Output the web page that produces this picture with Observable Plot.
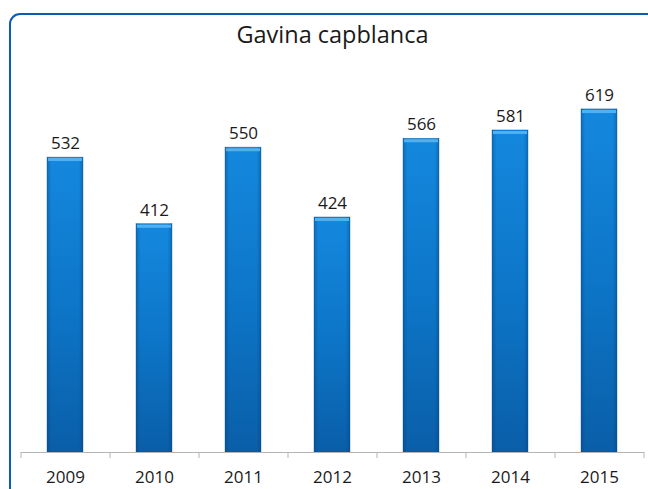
<!DOCTYPE html>
<html>
<head>
<meta charset="utf-8">
<script src="https://cdn.jsdelivr.net/npm/d3@7"></script>
<script src="https://cdn.jsdelivr.net/npm/@observablehq/plot@0.6"></script>
<style>
  html, body { margin: 0; padding: 0; background: #fff; }
  body { width: 648px; height: 489px; position: relative; overflow: hidden; font-family: "Open Sans", Lato, sans-serif; }
  #frame { position: absolute; left: 9px; top: 13px; width: 700px; height: 560px; border: 2.5px solid #0b5db3; border-radius: 11px; box-sizing: border-box; }
  #title { position: absolute; left: 21px; width: 623px; top: 19px; text-align: center; font-family: "Open Sans", sans-serif; font-size: 23.5px; color: #1a1a1a; line-height: 1.3; }
  #chart { position: absolute; left: 0; top: 0; }
</style>
</head>
<body>
<svg width="0" height="0" style="position:absolute">
  <defs>
    <linearGradient id="barV" x1="0" y1="0" x2="0" y2="1">
      <stop offset="0" stop-color="#1488de"/>
      <stop offset="0.5" stop-color="#0d76c8"/>
      <stop offset="1" stop-color="#0a5ea8"/>
    </linearGradient>
    <linearGradient id="barH" x1="0" y1="0" x2="1" y2="0">
      <stop offset="0" stop-color="#003a70" stop-opacity="0.35"/>
      <stop offset="0.12" stop-color="#003a70" stop-opacity="0"/>
      <stop offset="0.88" stop-color="#003a70" stop-opacity="0"/>
      <stop offset="1" stop-color="#003a70" stop-opacity="0.35"/>
    </linearGradient>
  </defs>
</svg>
<div id="frame"></div>
<div id="title">Gavina capblanca</div>
<div id="chart"></div>
<script>
const years = ["2009", "2010", "2011", "2012", "2013", "2014", "2015"];
const counts = [532, 412, 550, 424, 566, 581, 619];

const data = years.map((year, i) => ({year, count: counts[i]}));
const W = 648, H = 489;
const mL = 21, mR = 4;
const step = (W - mL - mR) / years.length;

const chart = Plot.plot({
  width: W,
  height: H,
  marginLeft: mL,
  marginRight: mR,
  marginTop: 64,
  marginBottom: 37,
  style: {background: "transparent", fontFamily: "'Open Sans', sans-serif", overflow: "visible"},
  x: {domain: years, paddingInner: 0.595, paddingOuter: 0.2975, align: 0.5, axis: null},
  y: {domain: [0, 700], axis: null},
  marks: [
    Plot.barY(data, {x: "year", y: "count", fill: "url(#barV)"}),
    Plot.barY(data, {x: "year", y: "count", fill: "url(#barH)"}),
    Plot.barY(data, {x: "year", y1: 0, y2: "count", fill: "none", stroke: "#0a4f92", strokeWidth: 0.6, strokeOpacity: 0.6}),
    Plot.tickY(data, {x: "year", y: "count", stroke: "#4fb0f2", strokeWidth: 3, dy: 2, inset: 1}),
    Plot.ruleY([0], {stroke: "#b5b5b5", strokeWidth: 1.2}),
    Plot.ruleX(data, {x: "year", y1: 0, y2: 0, dx: -step / 2, insetBottom: -6, stroke: "#b5b5b5"}),
    Plot.ruleX([years[years.length - 1]], {x: d => d, y1: 0, y2: 0, dx: step / 2, insetBottom: -6, stroke: "#b5b5b5"}),
    Plot.text(data, {x: "year", y: "count", text: d => String(d.count), dy: -14, fontSize: 17, fill: "#1a1a1a"}),
    Plot.text(data, {x: "year", y: 0, text: "year", dy: 25, fontSize: 17, fill: "#1a1a1a"})
  ]
});
document.getElementById("chart").appendChild(chart);
</script>
</body>
</html>
